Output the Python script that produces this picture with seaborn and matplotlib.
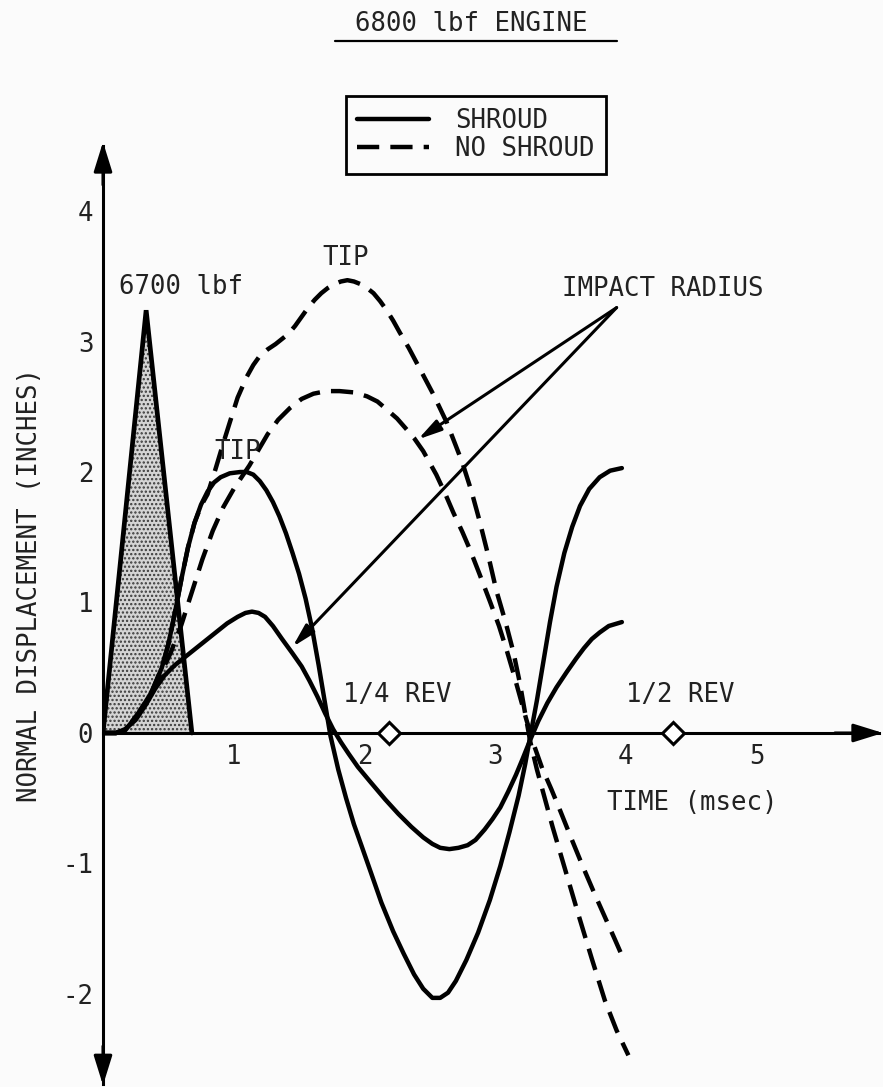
import numpy as np
import pandas as pd
import matplotlib
matplotlib.use("Agg")
import matplotlib.pyplot as plt
import seaborn as sns
from matplotlib.lines import Line2D

# blade tip, with shroud
tip_shroud_t = [0.00, 0.10, 0.17, 0.27, 0.37, 0.45, 0.50, 0.55, 0.60, 0.65, 0.70, 0.75, 0.80, 0.85,
                0.90, 0.97, 1.05, 1.10, 1.15, 1.20, 1.25, 1.30, 1.35, 1.40, 1.45, 1.50, 1.55, 1.60,
                1.65, 1.70, 1.74, 1.80, 1.86, 1.92, 1.98, 2.05, 2.13, 2.22, 2.30, 2.38, 2.45, 2.52,
                2.58, 2.64, 2.70, 2.78, 2.87, 2.96, 3.04, 3.11, 3.18, 3.23, 3.27, 3.32, 3.37, 3.42,
                3.47, 3.53, 3.59, 3.65, 3.72, 3.80, 3.88, 3.97]
tip_shroud_d = [0.00, 0.00, 0.02, 0.15, 0.31, 0.50, 0.68, 0.92, 1.18, 1.42, 1.61, 1.75, 1.85, 1.92,
                1.96, 1.99, 2.00, 2.00, 1.98, 1.93, 1.86, 1.77, 1.66, 1.53, 1.38, 1.22, 1.03, 0.80,
                0.52, 0.22, -0.02, -0.28, -0.50, -0.70, -0.87, -1.07, -1.30, -1.52, -1.69, -1.85, -1.96, -2.03,
                -2.03, -1.99, -1.90, -1.74, -1.53, -1.28, -1.02, -0.76, -0.48, -0.24, -0.02, 0.25, 0.55, 0.85,
                1.12, 1.38, 1.58, 1.74, 1.87, 1.96, 2.01, 2.03]

# impact radius, with shroud
imp_shroud_t = [0.00, 0.10, 0.17, 0.25, 0.33, 0.40, 0.47, 0.55, 0.65, 0.75, 0.85, 0.95, 1.03, 1.09,
                1.14, 1.19, 1.24, 1.30, 1.37, 1.45, 1.52, 1.58, 1.64, 1.70, 1.76, 1.82, 1.88, 1.95,
                2.05, 2.16, 2.26, 2.36, 2.45, 2.52, 2.58, 2.65, 2.72, 2.79, 2.85, 2.92, 2.98, 3.04,
                3.10, 3.16, 3.21, 3.27, 3.33, 3.40, 3.47, 3.55, 3.62, 3.68, 3.74, 3.80, 3.87, 3.97]
imp_shroud_d = [0.00, 0.00, 0.03, 0.10, 0.22, 0.34, 0.44, 0.52, 0.60, 0.68, 0.76, 0.84, 0.89, 0.92,
                0.93, 0.92, 0.89, 0.82, 0.72, 0.61, 0.51, 0.40, 0.28, 0.15, 0.03, -0.07, -0.16, -0.26,
                -0.38, -0.51, -0.62, -0.72, -0.80, -0.85, -0.88, -0.89, -0.88, -0.86, -0.82, -0.74, -0.66, -0.57,
                -0.45, -0.32, -0.20, -0.05, 0.09, 0.23, 0.35, 0.47, 0.57, 0.65, 0.72, 0.77, 0.82, 0.85]

# blade tip, no shroud
tip_free_t = [0.00, 0.10, 0.17, 0.27, 0.37, 0.45, 0.50, 0.55, 0.60, 0.65, 0.70, 0.75, 0.80, 0.86,
              0.92, 0.97, 1.03, 1.10, 1.15, 1.20, 1.26, 1.32, 1.37, 1.42, 1.47, 1.52, 1.57, 1.62,
              1.67, 1.72, 1.77, 1.82, 1.87, 1.92, 1.97, 2.02, 2.07, 2.12, 2.17, 2.22, 2.27, 2.34,
              2.43, 2.53, 2.63, 2.70, 2.75, 2.82, 2.88, 2.95, 3.01, 3.08, 3.14, 3.19, 3.23, 3.27,
              3.32, 3.38, 3.44, 3.54, 3.64, 3.74, 3.84, 3.93, 4.02]
tip_free_d = [0.00, 0.00, 0.02, 0.15, 0.31, 0.50, 0.68, 0.92, 1.18, 1.42, 1.61, 1.74, 1.83, 2.02,
              2.22, 2.38, 2.57, 2.73, 2.82, 2.89, 2.94, 2.98, 3.02, 3.06, 3.12, 3.19, 3.26, 3.32,
              3.37, 3.41, 3.44, 3.46, 3.47, 3.46, 3.44, 3.41, 3.37, 3.31, 3.24, 3.16, 3.07, 2.95,
              2.78, 2.59, 2.38, 2.20, 2.07, 1.85, 1.63, 1.35, 1.09, 0.85, 0.62, 0.38, 0.15, -0.07,
              -0.28, -0.50, -0.72, -1.06, -1.40, -1.73, -2.05, -2.28, -2.47]

# impact radius, no shroud
imp_free_t = [0.00, 0.10, 0.17, 0.27, 0.37, 0.45, 0.52, 0.60, 0.68, 0.76, 0.84, 0.92, 1.00, 1.06,
              1.12, 1.19, 1.26, 1.34, 1.43, 1.52, 1.61, 1.71, 1.81, 1.92, 2.02, 2.10, 2.17, 2.25,
              2.32, 2.38, 2.45, 2.55, 2.62, 2.68, 2.75, 2.81, 2.88, 2.96, 3.03, 3.09, 3.14, 3.19,
              3.24, 3.30, 3.36, 3.43, 3.50, 3.58, 3.67, 3.76, 3.84, 3.92, 3.99]
imp_free_d = [0.00, 0.00, 0.02, 0.14, 0.30, 0.47, 0.62, 0.83, 1.08, 1.33, 1.55, 1.73, 1.87, 1.96,
              2.05, 2.17, 2.29, 2.40, 2.49, 2.56, 2.60, 2.62, 2.62, 2.61, 2.58, 2.54, 2.48, 2.41,
              2.33, 2.26, 2.16, 1.98, 1.83, 1.69, 1.54, 1.40, 1.22, 1.01, 0.82, 0.63, 0.46, 0.28,
              0.10, -0.10, -0.27, -0.43, -0.60, -0.80, -1.02, -1.23, -1.41, -1.59, -1.75]

# 6700 lbf impact load pulse
load_t = [0.00, 0.33, 0.68]
load_d = [0.00, 3.24, 0.00]

# quarter / half revolution marks
rev_t = [2.19, 4.36]
rev_labels = ["1/4 REV", "1/2 REV"]

xticks = [1, 2, 3, 4, 5]
yticks = [-2, -1, 0, 1, 2, 3, 4]

curves = [
    ("tip shroud", "SHROUD", tip_shroud_t, tip_shroud_d),
    ("imp shroud", "SHROUD", imp_shroud_t, imp_shroud_d),
    ("tip free", "NO SHROUD", tip_free_t, tip_free_d),
    ("imp free", "NO SHROUD", imp_free_t, imp_free_d),
]
frames = []
for name, case, t, d in curves:
    frames.append(pd.DataFrame({"time": t, "disp": d, "curve": name, "case": case}))
df = pd.concat(frames, ignore_index=True)

sns.set_theme(style="white")
plt.rcParams['font.family'] = ['DejaVu Sans Mono', 'DejaVu Sans']
plt.rcParams['axes.unicode_minus'] = False
plt.rcParams['hatch.linewidth'] = 1.1

FS = 18.5
INK = "#222222"
W, H = 883, 1087
fig = plt.figure(figsize=(W / 100, H / 100), dpi=100)
fig.patch.set_facecolor("#fbfbfb")
ax = fig.add_axes([103 / W, 0, 780 / W, 945 / H])
ax.set_facecolor("none")

# load pulse (stippled triangle)
ax.fill(load_t, load_d, facecolor="#d4d4d4", hatch="....", edgecolor="#3a3a3a", lw=0)
ax.plot(load_t, load_d, color="black", lw=3.4, solid_joinstyle="miter")

sns.lineplot(data=df, x="time", y="disp", units="curve", estimator=None, sort=False,
             style="case", dashes={"SHROUD": "", "NO SHROUD": (5, 2.5)},
             color="black", lw=3.2, legend=False, ax=ax)

ax.set_xlim(0, 5.968)
ax.set_ylim(-2.713, 4.529)

for s in ["top", "right"]:
    ax.spines[s].set_visible(False)
for s in ["left", "bottom"]:
    ax.spines[s].set_position(("data", 0))
    ax.spines[s].set_color("black")
    ax.spines[s].set_linewidth(2.2)
ax.spines["left"].set_bounds(-2.69, 4.50)
ax.spines["bottom"].set_bounds(0, 5.94)

ax.set_xticks(xticks)
ax.set_yticks(yticks)
ax.set_xticklabels([str(v) for v in xticks])
ax.set_yticklabels([str(v) for v in yticks])
ax.tick_params(axis="both", direction="in", length=9.5, width=2.2, color="black",
               labelsize=FS, labelcolor=INK)
ax.tick_params(axis="x", pad=8)
ax.tick_params(axis="y", pad=7)
ax.set_xlabel("")
ax.set_ylabel("NORMAL DISPLACEMENT (INCHES)", fontsize=FS, color=INK, va="center")
ax.yaxis.set_label_coords(-0.094, 0.531)

# axis arrow heads
head = dict(arrowstyle="-|>,head_length=0.9,head_width=0.28", color="black", lw=2.2,
            mutation_scale=20, shrinkA=0, shrinkB=0)
ax.annotate("", xy=(5.968, 0), xytext=(5.6, 0), arrowprops=head, annotation_clip=False)
ax.annotate("", xy=(0, 4.529), xytext=(0, 4.2), arrowprops=head, annotation_clip=False)
ax.annotate("", xy=(0, -2.70), xytext=(0, -2.4), arrowprops=head, annotation_clip=False)

# revolution markers
ax.plot(rev_t, [0] * len(rev_t), ls="none", marker="D", ms=11, mfc="white", mec="black",
        mew=2.2, clip_on=False, zorder=5)
for t, lab in zip(rev_t, rev_labels):
    ax.text(t + 0.06, 0.29, lab, fontsize=FS, ha="center", va="center", color=INK)

ax.text(4.51, -0.54, "TIME (msec)", fontsize=FS, ha="center", va="center", color=INK)
ax.text(0.60, 3.42, "6700 lbf", fontsize=FS, ha="center", va="center", color=INK)
ax.text(1.86, 3.64, "TIP", fontsize=FS, ha="center", va="center", color=INK)
ax.text(1.03, 2.15, "TIP", fontsize=FS, ha="center", va="center", color=INK)
ax.text(4.28, 3.40, "IMPACT RADIUS", fontsize=FS, ha="center", va="center", color=INK)

# leader arrows from IMPACT RADIUS
lead = dict(arrowstyle="-|>,head_length=0.7,head_width=0.18", color="black", lw=2.2,
            mutation_scale=20, shrinkA=0, shrinkB=0)
ax.annotate("", xy=(2.41, 2.25), xytext=(3.93, 3.26), arrowprops=lead)
ax.annotate("", xy=(1.45, 0.66), xytext=(3.93, 3.26), arrowprops=lead)

# title with underline
fig.text(471 / W, 1 - 24 / H, "6800 lbf ENGINE", fontsize=FS, ha="center", va="center",
         color=INK)
fig.add_artist(Line2D([335 / W, 617 / W], [1 - 41 / H] * 2, transform=fig.transFigure,
                      color="black", lw=1.6))

handles = [Line2D([], [], color="black", lw=3.2),
           Line2D([], [], color="black", lw=3.2, dashes=(5, 2.5))]
leg = fig.legend(handles, ["SHROUD", "NO SHROUD"], loc="upper center",
                 bbox_to_anchor=(476 / W, 1 - 96 / H), fontsize=FS, frameon=True,
                 fancybox=False, edgecolor="black", framealpha=1, handlelength=2.8,
                 handletextpad=1.0, labelspacing=0.1, borderpad=0.45, borderaxespad=0)
leg.get_frame().set_linewidth(2)
leg.get_frame().set_facecolor("#fbfbfb")
for txt in leg.get_texts():
    txt.set_color(INK)

fig.savefig("out.png", dpi=100, facecolor=fig.get_facecolor())
